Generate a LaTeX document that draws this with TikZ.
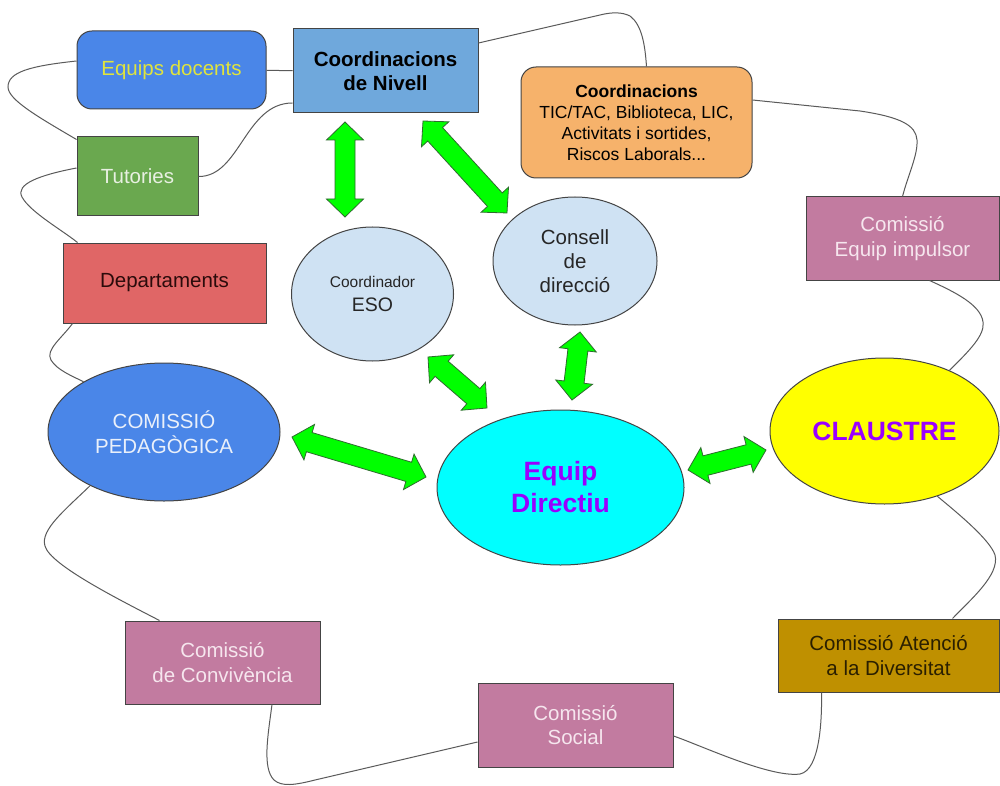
\documentclass[tikz,border=0pt]{standalone}
\usepackage{fontspec}
\setmainfont{Liberation Sans}
\usetikzlibrary{shapes.geometric,calc}

\definecolor{cLine}{HTML}{444444}
\definecolor{cLink}{HTML}{5A5A5A}
\definecolor{cEd}{HTML}{4A86E8}
\definecolor{cEdTxt}{HTML}{E0E43C}
\definecolor{cCn}{HTML}{6FA8DC}
\definecolor{cTut}{HTML}{6AA84F}
\definecolor{cTutTxt}{HTML}{E8F0E2}
\definecolor{cDep}{HTML}{E06666}
\definecolor{cDepTxt}{HTML}{2B0B0B}
\definecolor{cTic}{HTML}{F6B26B}
\definecolor{cLight}{HTML}{CFE2F3}
\definecolor{cPed}{HTML}{4A86E8}
\definecolor{cPedTxt}{HTML}{EAF0FA}
\definecolor{cCyan}{HTML}{00FFFF}
\definecolor{cYel}{HTML}{FFFF00}
\definecolor{cPurple}{HTML}{9900FF}
\definecolor{cPink}{HTML}{C27BA0}
\definecolor{cPinkTxt}{HTML}{F6E6EE}
\definecolor{cOchre}{HTML}{BF9000}
\definecolor{cOchreTxt}{HTML}{2A1F00}
\definecolor{cArrFill}{HTML}{00FF00}
\definecolor{cArrLine}{HTML}{2E6B2E}

\newcommand\dblarrow[2]{%
  \draw[greenarr] let \p1=($(#2)-(#1)$), \n1={atan2(\y1,\x1)}, \n2={veclen(\x1,\y1)} in
    [shift={(#1)}, rotate=\n1]
    (0pt,0pt) -- (18pt,18.5pt) -- (18pt,10pt) -- (\n2-18pt,10pt) -- (\n2-18pt,18.5pt)
    -- (\n2-0pt,0pt) -- (\n2-18pt,-18.5pt) -- (\n2-18pt,-10pt) -- (18pt,-10pt) -- (18pt,-18.5pt) -- cycle;}

\tikzset{
  box/.style={draw=cLine, line width=1pt, inner sep=0pt, align=center,
    font=\fontsize{20.5}{24.5}\selectfont},
  oval/.style={ellipse, draw=cLine, line width=1pt, inner sep=0pt, align=center,
    font=\fontsize{20.5}{24.5}\selectfont},
  link/.style={draw=cLink, line width=1pt},
  greenarr/.style={fill=cArrFill, draw=cArrLine, line width=0.8pt, line join=miter},
}

\begin{document}
\begin{tikzpicture}[x=1pt,y=-1pt]
\fill[white] (0,0) rectangle (1000,786);
\useasboundingbox (0,0) rectangle (1000,786);

% nodes
\node[box, fill=cEd, rounded corners=15pt, minimum width=189pt, minimum height=78pt, text=cEdTxt] (ed) at (171.5,70) {Equips docents};
\node[box, fill=cCn, minimum width=185pt, minimum height=84pt, font=\fontsize{20.5}{23.5}\selectfont\bfseries] (cn) at (385.5,71) {Coordinacions\\de Nivell};
\node[box, fill=cTut, minimum width=121pt, minimum height=79pt, text=cTutTxt] (tut) at (137.5,176.5) {Tutories};
\node[box, fill=cDep, minimum width=203pt, minimum height=80pt, text=cDepTxt] (dep) at (164.5,283) {Departaments};
\node[box, fill=cTic, rounded corners=15pt, minimum width=231pt, minimum height=111pt, font=\fontsize{17.5}{21}\selectfont] (tic) at (636.5,122.5) {\textbf{Coordinacions}\\TIC/TAC, Biblioteca, LIC,\\Activitats i sortides,\\Riscos Laborals...};
\node[oval, fill=cLight, minimum width=164pt, minimum height=128pt, text=black!85, font=\fontsize{20.5}{24}\selectfont] (con) at (575,261) {Consell\\de\\direcció};
\node[oval, fill=cLight, minimum width=162pt, minimum height=134pt, text=black!85] (eso) at (372.5,294) {{\fontsize{15.5}{22}\selectfont Coordinador}\\{\fontsize{19.5}{22}\selectfont ESO}};
\node[oval, fill=cPed, minimum width=232pt, minimum height=138pt, text=cPedTxt] (ped) at (164,432) {COMISSIÓ\\PEDAGÒGICA};
\node[oval, fill=cCyan, minimum width=247pt, minimum height=155pt, text=cPurple, font=\fontsize{26.5}{32}\selectfont\bfseries] (edir) at (560.5,487.5) {Equip\\Directiu};
\node[oval, fill=cYel, minimum width=229pt, minimum height=146pt, text=cPurple, font=\fontsize{26.5}{32}\selectfont\bfseries] (cl) at (884.5,431) {CLAUSTRE};
\node[box, fill=cPink, minimum width=193pt, minimum height=83pt, text=cPinkTxt] (imp) at (902.5,238.5) {Comissió\\Equip impulsor};
\node[box, fill=cOchre, minimum width=221pt, minimum height=73pt, text=cOchreTxt] (aten) at (888.5,655.5) {Comissió Atenció\\a la Diversitat};
\node[box, fill=cPink, minimum width=195pt, minimum height=84pt, text=cPinkTxt] (soc) at (575.5,725) {Comissió\\Social};
\node[box, fill=cPink, minimum width=195pt, minimum height=83pt, text=cPinkTxt] (conv) at (222.5,662.5) {Comissió\\de Convivència};

% thin connectors
\draw[link] ([yshift=9pt]ed.west) .. controls (30,66) and (8,72) .. (8,87) .. controls (8,100) and (40,118) .. ([yshift=-3pt]tut.north west);
\draw[link] (ed) -- (cn);
\draw[link] (tut.east) .. controls (240,177) and (245,103) .. ([yshift=-32pt]cn.west);
\draw[link] ([yshift=8.5pt]tut.west) .. controls (40,175) and (15,184) .. (22,197) .. controls (30,212) and (62,230) .. ([xshift=15pt]dep.north west);
\draw[link] ([xshift=10pt]dep.south west) .. controls (62,338) and (45,350) .. (51,360) .. controls (57,370) and (72,376) .. (ped.148);
\draw[link] (ped.216) .. controls (65,510) and (40,530) .. (45,546) .. controls (50,565) and (120,600) .. ([xshift=35pt]conv.north west);
\draw[link] ([xshift=49.5pt]conv.south) .. controls (268,735) and (262,768) .. (274,780) .. controls (282,787) and (295,785) .. (315,780) -- ([yshift=-17pt]soc.west);
\draw[link] ([yshift=-11pt]soc.east) .. controls (700,745) and (770,778) .. (800,774) .. controls (820,770) and (822,720) .. ([xshift=44pt]aten.south west);
\draw[link] ([xshift=64pt]aten.north) .. controls (970,600) and (1000,575) .. (995,555) .. controls (990,540) and (960,515) .. (cl.309);
\draw[link] (cl.43) .. controls (970,350) and (985,335) .. (983,322) .. controls (981,305) and (955,292) .. ([xshift=27pt]imp.south);
\draw[link] (imp.north) .. controls (908,175) and (918,155) .. (917,140) .. controls (916,125) and (900,117) .. (860,111) -- ([yshift=22.5pt]tic.east);
\draw[link] ([xshift=10pt]tic.north) .. controls (645,45) and (642,25) .. (630,16) .. controls (622,12) and (612,12) .. (600,15) -- ([yshift=28pt]cn.east);

% green double arrows
\coordinate (a1s) at (345,122); \coordinate (a1e) at (345,217);
\coordinate (a2s) at (423,121); \coordinate (a2e) at (507,213);
\coordinate (a3s) at (428,357); \coordinate (a3e) at (487,408);
\coordinate (a4s) at (580,332); \coordinate (a4e) at (572,400);
\coordinate (a5s) at (292,437); \coordinate (a5e) at (426,477);
\coordinate (a6s) at (688,470); \coordinate (a6e) at (766,450);
\dblarrow{a1s}{a1e}
\dblarrow{a2s}{a2e}
\dblarrow{a3s}{a3e}
\dblarrow{a4s}{a4e}
\dblarrow{a5s}{a5e}
\dblarrow{a6s}{a6e}
\end{tikzpicture}
\end{document}
